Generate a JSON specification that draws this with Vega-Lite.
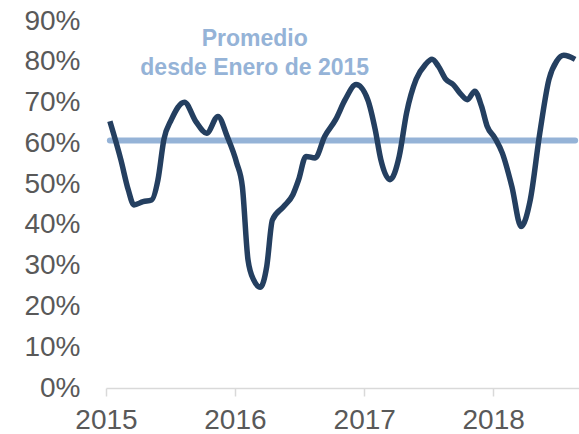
{
  "$schema": "https://vega.github.io/schema/vega-lite/v6.json",
  "width": 473,
  "height": 367,
  "autosize": {"type": "none"},
  "padding": {"left": 106, "top": 21, "right": 0, "bottom": 46},
  "background": "white",
  "config": {"view": {"stroke": null}, "font": "Liberation Sans"},
  "datasets": {
    "serie": [
      {"fecha": "2015-01-12", "valor": 0.654},
      {"fecha": "2015-02-12", "valor": 0.560},
      {"fecha": "2015-03-05", "valor": 0.486},
      {"fecha": "2015-03-21", "valor": 0.449},
      {"fecha": "2015-04-16", "valor": 0.457},
      {"fecha": "2015-05-10", "valor": 0.461},
      {"fecha": "2015-05-28", "valor": 0.510},
      {"fecha": "2015-06-14", "valor": 0.610},
      {"fecha": "2015-07-05", "valor": 0.658},
      {"fecha": "2015-08-11", "valor": 0.701},
      {"fecha": "2015-09-12", "valor": 0.654},
      {"fecha": "2015-10-13", "valor": 0.625},
      {"fecha": "2015-11-14", "valor": 0.666},
      {"fecha": "2015-12-10", "valor": 0.617},
      {"fecha": "2016-01-06", "valor": 0.552},
      {"fecha": "2016-01-22", "valor": 0.494},
      {"fecha": "2016-02-07", "valor": 0.314},
      {"fecha": "2016-02-23", "valor": 0.265},
      {"fecha": "2016-03-13", "valor": 0.247},
      {"fecha": "2016-03-31", "valor": 0.298},
      {"fecha": "2016-04-16", "valor": 0.412},
      {"fecha": "2016-05-18", "valor": 0.445},
      {"fecha": "2016-06-13", "valor": 0.474},
      {"fecha": "2016-06-29", "valor": 0.510},
      {"fecha": "2016-07-20", "valor": 0.568},
      {"fecha": "2016-08-15", "valor": 0.564},
      {"fecha": "2016-09-11", "valor": 0.617},
      {"fecha": "2016-10-12", "valor": 0.658},
      {"fecha": "2016-11-08", "valor": 0.707},
      {"fecha": "2016-12-09", "valor": 0.744},
      {"fecha": "2017-01-11", "valor": 0.707},
      {"fecha": "2017-02-01", "valor": 0.634},
      {"fecha": "2017-02-17", "valor": 0.560},
      {"fecha": "2017-03-15", "valor": 0.511},
      {"fecha": "2017-04-10", "valor": 0.568},
      {"fecha": "2017-05-01", "valor": 0.675},
      {"fecha": "2017-05-28", "valor": 0.757},
      {"fecha": "2017-06-23", "valor": 0.793},
      {"fecha": "2017-07-12", "valor": 0.806},
      {"fecha": "2017-07-30", "valor": 0.789},
      {"fecha": "2017-08-20", "valor": 0.757},
      {"fecha": "2017-09-10", "valor": 0.744},
      {"fecha": "2017-10-02", "valor": 0.720},
      {"fecha": "2017-10-20", "valor": 0.707},
      {"fecha": "2017-11-10", "valor": 0.728},
      {"fecha": "2017-11-29", "valor": 0.691},
      {"fecha": "2017-12-15", "valor": 0.642},
      {"fecha": "2018-01-06", "valor": 0.613},
      {"fecha": "2018-01-27", "valor": 0.576},
      {"fecha": "2018-02-23", "valor": 0.494},
      {"fecha": "2018-03-21", "valor": 0.396},
      {"fecha": "2018-04-16", "valor": 0.461},
      {"fecha": "2018-05-13", "valor": 0.625},
      {"fecha": "2018-06-08", "valor": 0.757},
      {"fecha": "2018-06-30", "valor": 0.802},
      {"fecha": "2018-07-20", "valor": 0.816},
      {"fecha": "2018-08-21", "valor": 0.806}
    ],
    "promedio": [
      {"fecha": "2015-01-12", "valor": 0.607},
      {"fecha": "2018-08-21", "valor": 0.607}
    ],
    "etiqueta": [
      {"fecha": "2016-02-26", "valor": 0.839, "texto": "Promedio"},
      {"fecha": "2016-02-26", "valor": 0.768, "texto": "desde Enero de 2015"}
    ]
  },
  "encoding": {
    "x": {
      "field": "fecha",
      "type": "temporal",
      "scale": {"type": "utc", "domain": ["2015-01-01", "2018-09-01"]},
      "axis": {
        "title": null,
        "format": "%Y",
        "tickCount": {"interval": "year", "step": 1},
        "grid": false,
        "domainColor": "#d9d9d9",
        "domainWidth": 1.5,
        "tickColor": "#d9d9d9",
        "tickWidth": 1.5,
        "tickSize": 8,
        "labelPadding": 10,
        "labelFontSize": 28,
        "labelColor": "#595959",
        "labelFont": "Liberation Sans",
        "labelFlush": false
      }
    },
    "y": {
      "field": "valor",
      "type": "quantitative",
      "scale": {"domain": [0, 0.9], "nice": false},
      "axis": {
        "title": null,
        "format": ".0%",
        "values": [0, 0.1, 0.2, 0.3, 0.4, 0.5, 0.6, 0.7, 0.8, 0.9],
        "grid": false,
        "domain": false,
        "ticks": false,
        "labelPadding": 26,
        "labelFontSize": 28,
        "labelColor": "#595959",
        "labelFont": "Liberation Sans"
      }
    }
  },
  "layer": [
    {
      "data": {"name": "promedio"},
      "mark": {"type": "line", "color": "#95b3d7", "strokeWidth": 6, "strokeCap": "round"}
    },
    {
      "data": {"name": "serie"},
      "mark": {"type": "line", "color": "#243f60", "strokeWidth": 5.5, "interpolate": "monotone", "strokeJoin": "round"}
    },
    {
      "data": {"name": "etiqueta"},
      "mark": {"type": "text", "color": "#95b3d7", "fontSize": 23, "fontWeight": "bold", "font": "Liberation Sans", "align": "center", "baseline": "alphabetic"},
      "encoding": {"text": {"field": "texto"}}
    }
  ]
}
